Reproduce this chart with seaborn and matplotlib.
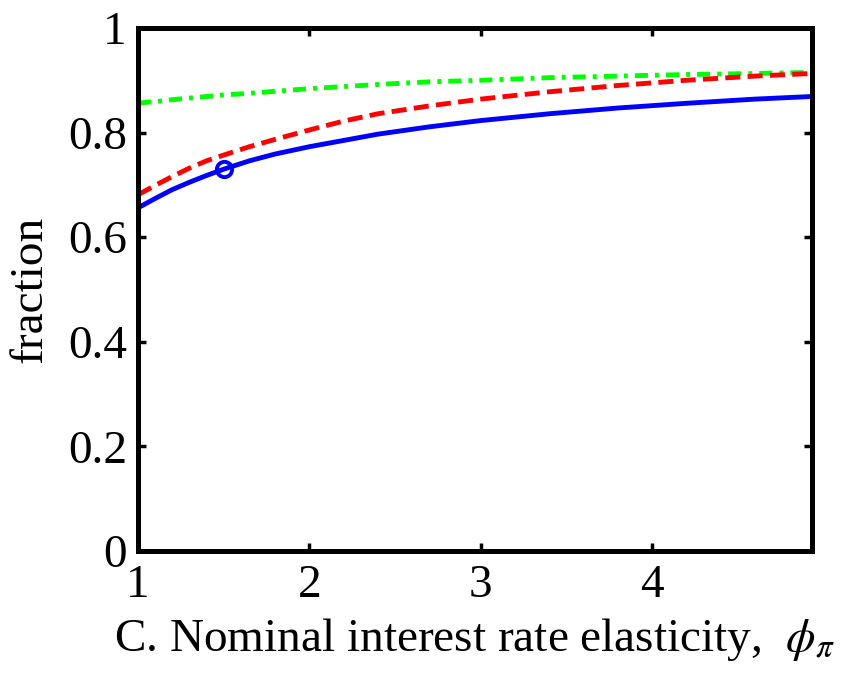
import matplotlib
matplotlib.use("Agg")
import matplotlib.pyplot as plt
import seaborn as sns
import pandas as pd

phi_pi = [1.0, 1.05, 1.1, 1.2, 1.3, 1.4, 1.5, 1.65, 1.8, 2.0, 2.2, 2.4, 2.7, 3.0, 3.4, 3.8, 4.2, 4.6, 4.93]
blue_vals = [0.656, 0.665, 0.674, 0.691, 0.705, 0.718, 0.730, 0.746, 0.759, 0.773, 0.785, 0.797,
             0.811, 0.823, 0.836, 0.847, 0.856, 0.864, 0.869]
red_vals = [0.681, 0.690, 0.699, 0.716, 0.732, 0.746, 0.757, 0.773, 0.787, 0.805, 0.822, 0.836,
            0.851, 0.864, 0.878, 0.890, 0.900, 0.908, 0.913]
green_vals = [0.856, 0.858, 0.859, 0.863, 0.866, 0.869, 0.872, 0.875, 0.879, 0.884, 0.888, 0.892,
              0.897, 0.900, 0.905, 0.908, 0.911, 0.913, 0.915]
marker_x = [1.5]
marker_y = [0.730]
x_ticks = [1, 2, 3, 4]
y_ticks = [0, 0.2, 0.4, 0.6, 0.8, 1]
y_ticklabels = ["0", "0.2", "0.4", "0.6", "0.8", "1"]

sns.set_style("white")
plt.rcParams['font.family'] = ['Liberation Serif', 'DejaVu Serif']
plt.rcParams['mathtext.fontset'] = 'stix'
plt.rcParams['text.color'] = 'black'
plt.rcParams['axes.labelcolor'] = 'black'
plt.rcParams['xtick.color'] = 'black'
plt.rcParams['ytick.color'] = 'black'

df = pd.DataFrame({"x": phi_pi, "blue": blue_vals, "red": red_vals, "green": green_vals})

fig = plt.figure(figsize=(8.44, 6.76), dpi=100)
ax = fig.add_axes([0.1635, 0.1849, 0.798, 0.7737])

lw = 3.5
sns.lineplot(data=df, x="x", y="green", ax=ax, color=(0, 1, 0), lw=lw)
ax.lines[-1].set_dashes((2.7, 1.45, 0.8, 1.45))
sns.lineplot(data=df, x="x", y="red", ax=ax, color=(1, 0, 0), lw=lw)
ax.lines[-1].set_dashes((3.1, 1.5))
sns.lineplot(data=df, x="x", y="blue", ax=ax, color=(0, 0, 1), lw=lw)
ax.plot(marker_x, marker_y, 'o', mfc='none', mec=(0, 0, 1), ms=11, mew=2.8)

ax.set_xlim(1, 4.93)
ax.set_ylim(0, 1)
ax.set_xticks(x_ticks)
ax.set_xticklabels([str(t) for t in x_ticks])
ax.set_yticks(y_ticks)
ax.set_yticklabels(y_ticklabels)
ax.tick_params(direction='in', length=6, width=2.5, labelsize=34, top=True, right=True,
               bottom=True, left=True, colors='black', labelcolor='black')
ax.tick_params(axis='x', pad=10)
ax.tick_params(axis='y', pad=8)
for s in ax.spines.values():
    s.set_visible(True)
    s.set_linewidth(3.6)
    s.set_color('black')

ax.set_xlabel(r"C. Nominal interest rate elasticity,  $\phi_{\pi}$", fontsize=34, labelpad=6, color='black')
ax.set_ylabel("fraction", fontsize=34, labelpad=12, color='black')

fig.savefig("out.png", dpi=100, facecolor='white')
